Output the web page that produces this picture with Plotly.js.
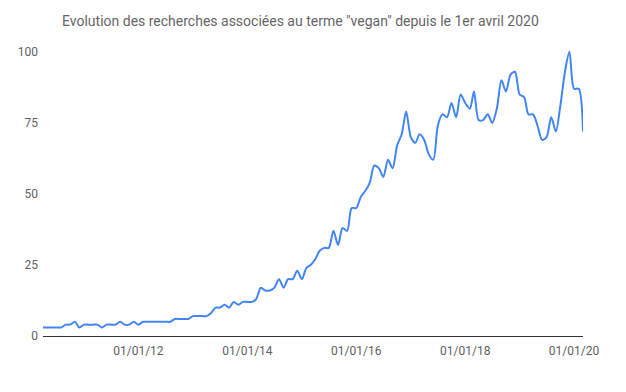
<!DOCTYPE html>
<html>
<head>
<meta charset="utf-8">
<script src="https://cdn.plot.ly/plotly-3.0.1.min.js"></script>
<style>html,body{margin:0;padding:0;background:#fff;}#chart{width:626px;height:392px;}</style>
</head>
<body>
<div id="chart"></div>
<script>
// Monthly interest, April 2010 -> March 2020 (Google Trends style index 0-100)
const startYear = 2010;
const startMonth = 4; // April
const values = [
  3, 3, 3, 3, 3, 4, 4, 5, 3, 4, 4, 4,
  4, 3, 4, 4, 4, 5, 4, 4, 5, 4, 5, 5,
  5, 5, 5, 5, 5, 6, 6, 6, 6, 7, 7, 7,
  7, 8, 10, 10, 11, 10, 12, 11, 12, 12, 12, 13,
  17, 16, 16, 17, 20, 17, 20, 20, 23, 20, 24, 25,
  27, 30, 31, 31, 37, 32, 38, 37, 45, 45, 49, 51,
  54, 60, 59, 56, 62, 59, 67, 71, 79, 70, 68, 71,
  69, 64, 62, 74, 78, 77, 82, 77, 85, 82, 80, 86,
  76, 76, 78, 75, 80, 90, 86, 92, 93, 85, 84, 78,
  78, 74, 69, 70, 77, 72, 81, 93, 100, 87, 87, 72
];
const tickDates = ['2012-01-01', '2014-01-01', '2016-01-01', '2018-01-01', '2020-01-01'];
const tickLabels = ['01/01/12', '01/01/14', '01/01/16', '01/01/18', '01/01/20'];
const yTicks = [0, 25, 50, 75, 100];
const titleText = 'Evolution des recherches associées au terme "vegan" depuis le 1er avril 2020';

const dates = values.map((v, i) => {
  const m0 = startMonth - 1 + i;
  const y = startYear + Math.floor(m0 / 12);
  const m = (m0 % 12) + 1;
  return y + '-' + String(m).padStart(2, '0') + '-01';
});

const trace = {
  x: dates,
  y: values,
  type: 'scatter',
  mode: 'lines',
  line: {color: '#4285F4', width: 2, shape: 'spline', smoothing: 0.8},
  hoverinfo: 'x+y'
};

const layout = {
  width: 626,
  height: 392,
  margin: {l: 43, r: 43, t: 49, b: 56, pad: 0},
  paper_bgcolor: '#ffffff',
  plot_bgcolor: '#ffffff',
  font: {family: 'Roboto, Arial, sans-serif', size: 12, color: '#5f5f5f'},
  showlegend: false,
  title: {
    text: titleText,
    font: {family: 'Roboto, Arial, sans-serif', size: 14, color: '#666666'},
    xref: 'container', x: 62 / 626, xanchor: 'left',
    yref: 'container', y: 1 - 21 / 392, yanchor: 'middle'
  },
  xaxis: {
    type: 'date',
    range: [dates[0], dates[dates.length - 1]],
    tickvals: tickDates,
    ticktext: tickLabels,
    showgrid: false,
    zeroline: false,
    showline: true,
    linecolor: '#333333',
    linewidth: 1,
    ticks: '',
    ticklabelstandoff: 4,
    tickfont: {family: 'Roboto, Arial, sans-serif', size: 12, color: '#5f5f5f'}
  },
  yaxis: {
    range: [0, 101],
    tickvals: yTicks,
    ticktext: yTicks.map(String),
    showgrid: false,
    zeroline: false,
    showline: false,
    ticks: '',
    ticklabelstandoff: 4,
    tickfont: {family: 'Roboto, Arial, sans-serif', size: 12, color: '#5f5f5f'}
  }
};

Plotly.newPlot('chart', [trace], layout, {displayModeBar: false, staticPlot: true});
</script>
</body>
</html>
